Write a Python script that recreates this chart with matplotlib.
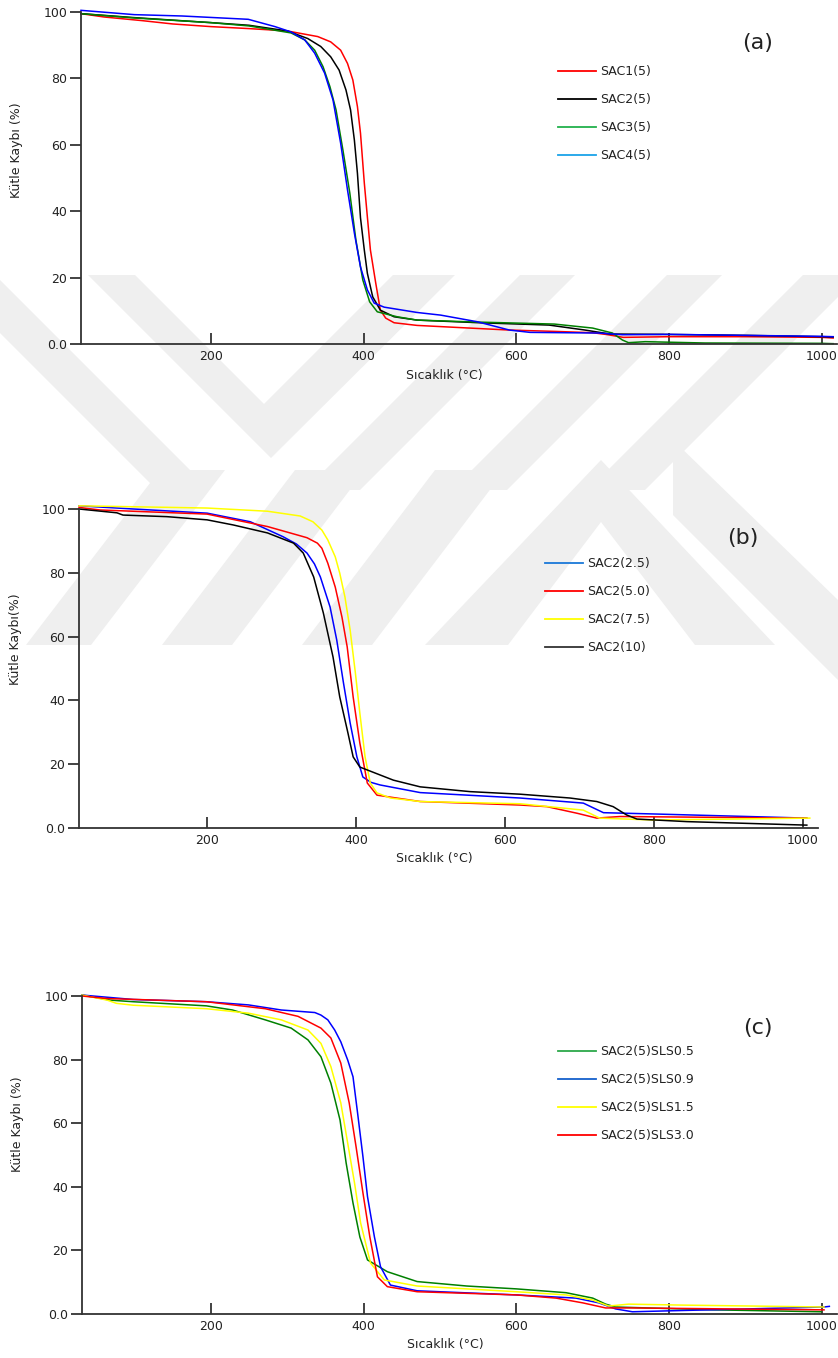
import matplotlib
matplotlib.use("Agg")
import matplotlib.pyplot as plt
from matplotlib.lines import Line2D
from matplotlib.patches import Polygon

plt.rcParams["font.family"] = ["DejaVu Sans"]
plt.rcParams["text.color"] = "#222222"
plt.rcParams["axes.labelcolor"] = "#222222"
plt.rcParams["xtick.color"] = "#222222"
plt.rcParams["ytick.color"] = "#222222"

# ---- panel (a) ----
a_labels = ["SAC1(5)", "SAC2(5)", "SAC3(5)", "SAC4(5)"]
a_sac1_t = [30, 60, 110, 150, 200, 250, 300, 314, 340, 357, 370, 379, 386, 392, 396, 401, 405, 409, 416, 422, 429, 440, 470, 530, 591, 650, 700, 720, 740, 800, 900, 1000, 1015]
a_sac1_m = [99.5, 98.5, 97.4, 96.4, 95.6, 95.0, 94.3, 93.7, 92.6, 91.0, 88.5, 84.5, 79.5, 71.5, 63.5, 48.5, 38.3, 28.3, 18.3, 10.2, 7.8, 6.4, 5.6, 4.9, 4.2, 3.8, 3.4, 2.8, 2.0, 2.2, 2.2, 2.0, 1.8]
a_sac2_t = [30, 100, 200, 250, 300, 327, 344, 357, 368, 377, 383, 388, 392, 396, 401, 405, 412, 422, 440, 470, 552, 643, 690, 723, 792, 900, 1000, 1015]
a_sac2_m = [99.5, 98.3, 96.8, 96.0, 94.3, 92.0, 89.6, 86.5, 82.5, 76.5, 70.5, 61.4, 51.4, 38.0, 28.3, 21.3, 14.2, 10.2, 8.2, 7.2, 6.4, 5.7, 4.2, 3.0, 2.9, 2.6, 2.2, 2.1]
a_sac3_t = [30, 100, 200, 250, 305, 323, 336, 347, 356, 364, 373, 382, 390, 399, 408, 418, 444, 470, 550, 650, 700, 726, 739, 747, 769, 847, 1000, 1015]
a_sac3_m = [99.5, 98.2, 96.8, 95.8, 93.7, 91.6, 88.5, 83.5, 77.5, 70.5, 58.4, 45.5, 31.3, 19.3, 12.7, 9.7, 8.2, 7.2, 6.6, 6.0, 4.8, 3.3, 1.2, 0.4, 0.7, 0.3, 0.2, 0.1]
a_sac4_t = [30, 100, 162, 249, 284, 305, 323, 336, 349, 360, 370, 379, 388, 396, 405, 414, 427, 470, 501, 549, 591, 618, 708, 739, 800, 1000, 1015]
a_sac4_m = [100.5, 99.2, 98.8, 97.8, 95.6, 94.0, 91.6, 87.6, 81.6, 73.5, 60.5, 46.4, 33.4, 23.2, 16.3, 12.3, 11.1, 9.5, 8.7, 6.7, 4.2, 3.5, 3.3, 2.8, 2.9, 2.3, 2.2]

# ---- panel (b) ----
b_labels = ["SAC2(2.5)", "SAC2(5.0)", "SAC2(7.5)", "SAC2(10)"]
b_25_t = [28, 101, 200, 258, 302, 320, 334, 344, 352, 365, 374, 383, 392, 401, 409, 420, 432, 486, 620, 705, 732, 799, 1005]
b_25_m = [101.0, 100.0, 98.7, 96.0, 91.3, 89.0, 86.2, 82.8, 78.7, 69.3, 58.9, 45.5, 32.9, 22.3, 16.0, 14.3, 13.5, 11.1, 9.4, 7.8, 4.8, 4.4, 3.1]
b_50_t = [28, 56, 200, 281, 325, 334, 348, 354, 362, 372, 381, 388, 396, 405, 415, 428, 486, 620, 656, 697, 723, 754, 1005]
b_50_m = [100.5, 99.7, 98.4, 94.5, 91.6, 91.0, 89.3, 87.7, 83.0, 75.5, 66.1, 56.8, 41.1, 26.6, 14.1, 10.3, 8.3, 7.2, 6.7, 4.6, 3.1, 3.6, 3.1]
b_75_t = [28, 200, 281, 325, 342, 354, 362, 372, 378, 385, 392, 399, 405, 412, 419, 428, 446, 486, 620, 705, 727, 799, 1009]
b_75_m = [101.0, 100.3, 99.3, 97.8, 96.0, 93.4, 90.3, 85.0, 79.9, 72.4, 62.0, 48.6, 36.0, 22.3, 14.1, 11.0, 9.4, 8.3, 7.6, 5.6, 3.1, 2.5, 3.1]
b_10_t = [28, 79, 87, 146, 200, 235, 281, 316, 329, 343, 356, 369, 378, 389, 396, 405, 450, 486, 553, 620, 687, 723, 745, 763, 777, 844, 1005]
b_10_m = [100.0, 98.8, 98.1, 97.6, 96.6, 95.0, 92.5, 89.3, 86.2, 78.7, 67.4, 53.6, 41.1, 29.8, 22.3, 19.1, 15.0, 12.9, 11.4, 10.6, 9.4, 8.3, 6.7, 4.1, 2.8, 2.0, 0.9]

# ---- panel (c) ----
c_labels = ["SAC2(5)SLS0.5", "SAC2(5)SLS0.9", "SAC2(5)SLS1.5", "SAC2(5)SLS3.0"]
c_05_t = [31, 68, 98, 194, 228, 271, 305, 327, 344, 357, 369, 377, 386, 395, 405, 431, 470, 535, 600, 665, 700, 717, 730, 773, 860, 999]
c_05_m = [100.3, 98.7, 98.2, 96.9, 95.6, 92.5, 89.9, 86.2, 80.9, 72.6, 61.0, 47.5, 34.9, 24.2, 17.0, 13.3, 10.2, 8.8, 7.9, 6.7, 5.0, 3.1, 2.2, 1.9, 1.3, 0.7]
c_09_t = [31, 98, 194, 249, 292, 336, 344, 353, 362, 370, 379, 386, 392, 399, 405, 414, 422, 435, 470, 600, 678, 708, 730, 752, 817, 903, 1003, 1010]
c_09_m = [100.3, 98.9, 98.2, 97.2, 95.6, 94.8, 94.0, 92.5, 89.3, 85.6, 79.9, 74.6, 63.2, 49.5, 36.9, 24.3, 14.9, 9.1, 7.3, 6.0, 5.0, 3.5, 1.6, 0.7, 1.1, 1.6, 2.2, 2.4]
c_15_t = [31, 64, 76, 98, 194, 249, 292, 327, 344, 357, 370, 379, 388, 396, 409, 427, 470, 600, 665, 700, 721, 747, 817, 1003]
c_15_m = [100.3, 98.7, 97.7, 97.1, 96.0, 94.6, 92.5, 89.3, 85.1, 77.8, 66.4, 53.8, 41.2, 28.6, 16.0, 10.7, 8.8, 7.0, 6.0, 4.4, 2.5, 3.1, 2.8, 2.2]
c_30_t = [31, 64, 194, 271, 314, 344, 357, 370, 381, 390, 399, 408, 418, 431, 470, 600, 652, 687, 717, 752, 1003]
c_30_m = [100.0, 99.2, 98.2, 96.0, 93.6, 89.9, 86.8, 78.9, 66.4, 52.6, 38.1, 24.3, 11.7, 8.6, 7.0, 6.0, 5.0, 3.5, 1.9, 1.9, 1.3]

x_ticks = [200, 400, 600, 800, 1000]
y_ticks = [0, 20, 40, 60, 80, 100]
y_tick_labels = ["0.0", "20", "40", "60", "80", "100"]

W, H = 838, 1358
fig = plt.figure(figsize=(W / 100, H / 100), dpi=100)

# faint background watermark (figure pixel coords)
bg = fig.add_axes([0, 0, 1, 1], zorder=-5)
bg.set_xlim(0, W)
bg.set_ylim(H, 0)
bg.axis("off")
wm = "#efefef"
shapes = [
    [(0, 280), (194, 474), (167, 500), (0, 333)],
    [(88, 275), (135, 275), (264, 404), (393, 275), (455, 275), (271, 458)],
    [(520, 275), (575, 275), (360, 490), (305, 490)],
    [(667, 275), (722, 275), (507, 490), (452, 490)],
    [(803, 275), (860, 275), (645, 490), (588, 490)],
    [(160, 470), (225, 470), (91, 645), (26, 645)],
    [(295, 470), (365, 470), (232, 645), (162, 645)],
    [(435, 470), (505, 470), (372, 645), (302, 645)],
    [(601, 460), (775, 645), (695, 645), (601, 522), (508, 645), (425, 645)],
    [(673, 440), (838, 600), (838, 680), (673, 515)],
]
for pts in shapes:
    bg.add_patch(Polygon(pts, closed=True, facecolor=wm, edgecolor="none"))


def px_axes(left, right, top, bottom):
    return fig.add_axes([left / W, 1 - bottom / H, (right - left) / W, (bottom - top) / H])


def style_axes(ax, xlim, ylabel, ylab_y):
    ax.set_facecolor("none")
    ax.set_xlim(*xlim)
    ax.set_ylim(0, 100)
    for s in ["top", "right"]:
        ax.spines[s].set_visible(False)
    for s in ["left", "bottom"]:
        ax.spines[s].set_linewidth(1.3)
        ax.spines[s].set_color("#333333")
    ax.set_xticks(x_ticks)
    ax.set_yticks(y_ticks)
    ax.set_yticklabels(y_tick_labels)
    ax.tick_params(axis="x", direction="in", length=8, width=1.2, pad=4, labelsize=9)
    ax.tick_params(axis="y", direction="out", length=8, width=1.2, pad=2, labelsize=9)
    ax.set_xlabel("Sıcaklık (°C)", fontsize=9)
    ax.xaxis.set_label_coords(0.481, -0.075)
    ax.set_ylabel(ylabel, fontsize=9)
    ax.yaxis.set_label_coords(-0.077, ylab_y)


def add_legend(ax, colors, labels, x, y):
    handles = [Line2D([], [], color=c, lw=1.3) for c in colors]
    ax.legend(handles, labels, loc="upper left", bbox_to_anchor=(x / W, 1 - y / H),
              bbox_transform=fig.transFigure, frameon=False, fontsize=9,
              handlelength=3.0, handletextpad=0.4, labelspacing=1.2,
              borderpad=0, borderaxespad=0)


lw = 1.1

# (a)
ax = px_axes(81, 837, 12, 344)
style_axes(ax, (30, 1020), "Kütle Kaybı (%)", 0.584)
ax.plot(a_sac1_t, a_sac1_m, color="#ff0000", lw=lw, clip_on=False)
ax.plot(a_sac2_t, a_sac2_m, color="#000000", lw=lw, clip_on=False)
ax.plot(a_sac3_t, a_sac3_m, color="#008000", lw=lw, clip_on=False)
ax.plot(a_sac4_t, a_sac4_m, color="#0000ff", lw=lw, clip_on=False)
add_legend(ax, ["#ff0000", "#000000", "#22b14c", "#1aa3e8"], a_labels, 558, 65)
fig.text(758 / W, 1 - 43 / H, "(a)", fontsize=16, ha="center", va="center")

# (b)
ax = px_axes(79, 818, 509, 828)
style_axes(ax, (28, 1020), "Kütle Kaybı(%)", 0.592)
ax.plot(b_25_t, b_25_m, color="#0000ff", lw=lw, clip_on=False)
ax.plot(b_50_t, b_50_m, color="#ff0000", lw=lw, clip_on=False)
ax.plot(b_75_t, b_75_m, color="#ffff00", lw=lw, clip_on=False)
ax.plot(b_10_t, b_10_m, color="#000000", lw=lw, clip_on=False)
add_legend(ax, ["#1a78d8", "#ff0000", "#ffff00", "#333333"], b_labels, 545, 557)
fig.text(743 / W, 1 - 538 / H, "(b)", fontsize=16, ha="center", va="center")

# (c)
ax = px_axes(82, 837, 996, 1314)
style_axes(ax, (31, 1020), "Kütle Kaybı (%)", 0.597)
ax.plot(c_05_t, c_05_m, color="#008000", lw=lw, clip_on=False)
ax.plot(c_09_t, c_09_m, color="#0000ff", lw=lw, clip_on=False)
ax.plot(c_15_t, c_15_m, color="#ffff00", lw=lw, clip_on=False)
ax.plot(c_30_t, c_30_m, color="#ff0000", lw=lw, clip_on=False)
add_legend(ax, ["#2ca84a", "#1560cc", "#ffff00", "#ff0000"], c_labels, 558, 1045)
fig.text(758 / W, 1 - 1028 / H, "(c)", fontsize=16, ha="center", va="center")

fig.savefig("out.png", dpi=100)
